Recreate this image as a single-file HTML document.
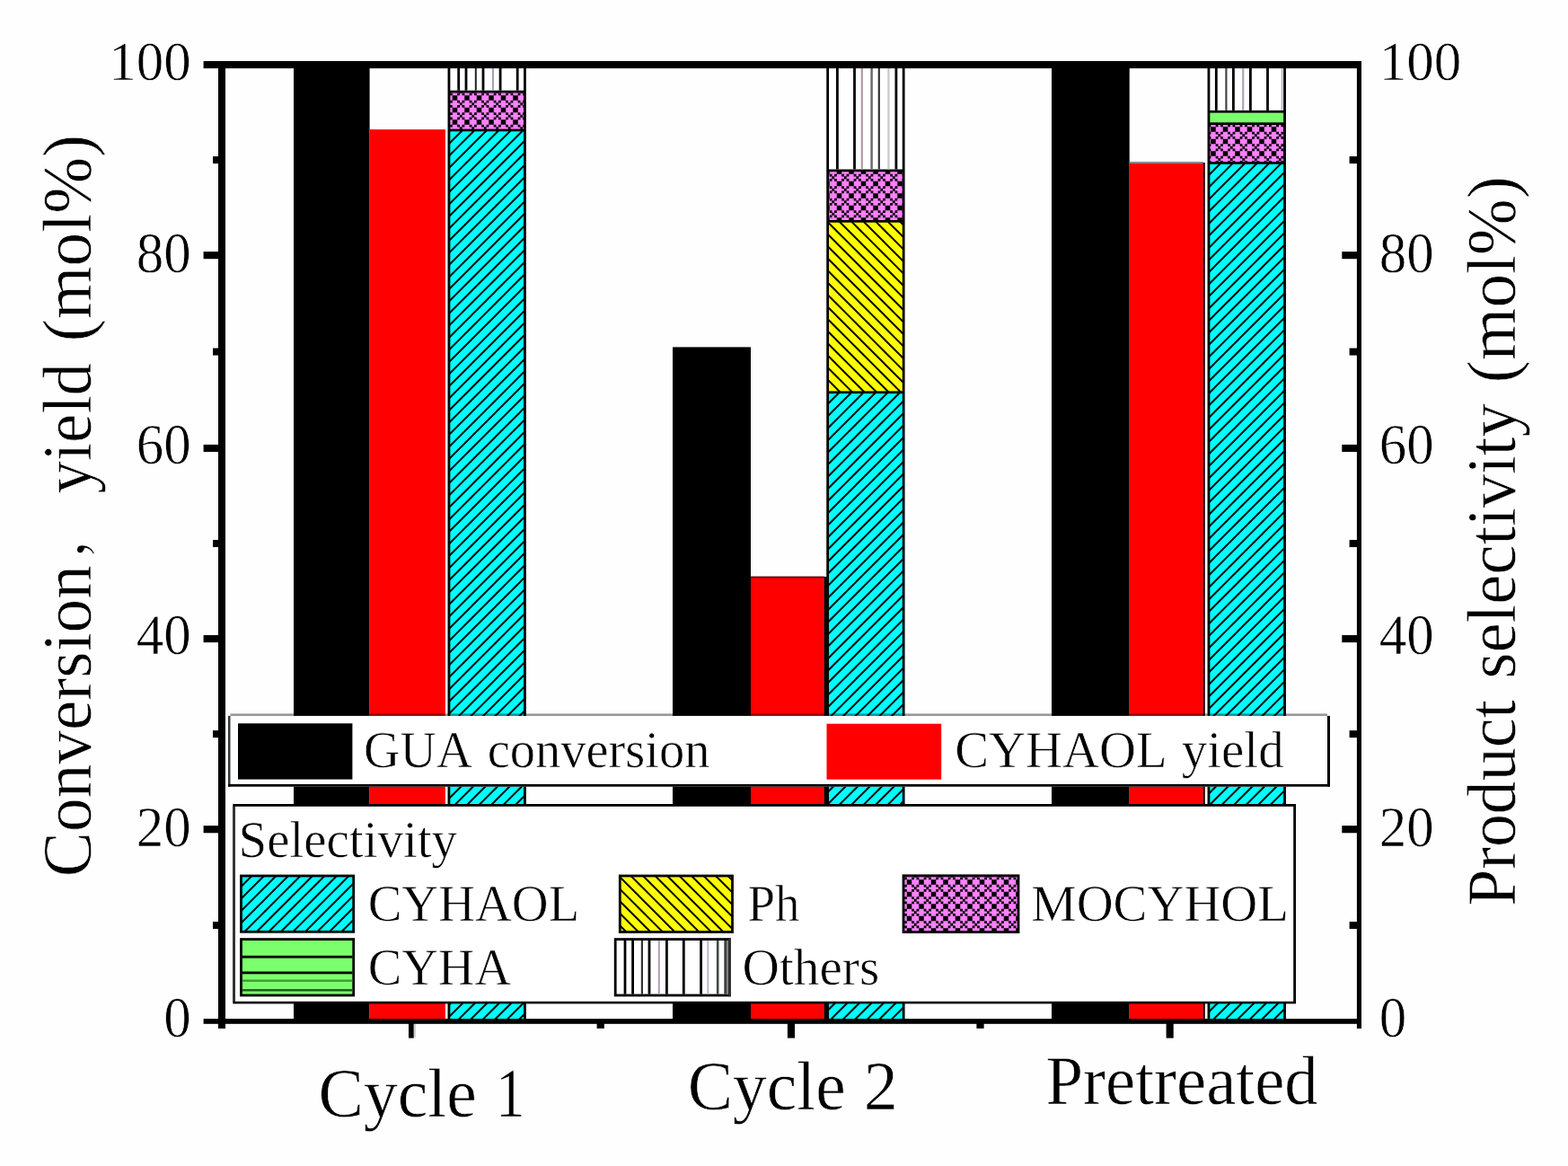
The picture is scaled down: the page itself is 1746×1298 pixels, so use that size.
<!DOCTYPE html>
<html lang="en">
<head>
<meta charset="utf-8">
<title>GUA conversion, CYHAOL yield and product selectivity</title>
<style>
html,body{margin:0;padding:0;background:#fefefe;}
body{width:1746px;height:1298px;overflow:hidden;}
svg{display:block;}
.t{font-family:"Liberation Serif","Noto Serif CJK SC",serif;fill:#000;stroke:#fefefe;stroke-width:0.6px;text-rendering:geometricPrecision;}
.c{font-family:"Noto Serif CJK SC","Noto Sans CJK SC","Liberation Serif",serif;}
</style>
</head>
<body>
<svg width="1746" height="1298" viewBox="0 0 1746 1298" shape-rendering="geometricPrecision">
<defs>
<pattern id="pc" patternUnits="userSpaceOnUse" x="0" y="0" width="27" height="27" shape-rendering="geometricPrecision">
<rect width="27" height="27" fill="#00ffff"/>
<path d="M5.00 -5L-32.00 32.0M18.50 -5L-18.50 32.0M32.00 -5L-5.00 32.0M45.50 -5L8.50 32.0M59.00 -5L22.00 32.0" stroke="#000" stroke-width="1.95" fill="none"/>
</pattern>
<pattern id="py" patternUnits="userSpaceOnUse" x="0" y="0" width="27" height="27" shape-rendering="geometricPrecision">
<rect width="27" height="27" fill="#ffff00"/>
<path d="M-32.00 -5L5.00 32.0M-18.50 -5L18.50 32.0M-5.00 -5L32.00 32.0M8.50 -5L45.50 32.0M22.00 -5L59.00 32.0" stroke="#000" stroke-width="1.95" fill="none"/>
</pattern>
<pattern id="pm" patternUnits="userSpaceOnUse" x="0" y="0" width="27" height="27" shape-rendering="geometricPrecision">
<rect width="27" height="27" fill="#ff80ff"/>
<path d="M-0.05 -0.05h2.8v2.8h-2.8zM10.75 -0.05h2.8v2.8h-2.8zM13.45 -0.05h2.8v2.8h-2.8zM24.25 -0.05h2.8v2.8h-2.8zM2.65 2.65h2.8v2.8h-2.8zM8.05 2.65h2.8v2.8h-2.8zM16.15 2.65h2.8v2.8h-2.8zM21.55 2.65h2.8v2.8h-2.8zM5.35 5.35h2.8v2.8h-2.8zM18.85 5.35h2.8v2.8h-2.8zM2.65 8.05h2.8v2.8h-2.8zM8.05 8.05h2.8v2.8h-2.8zM16.15 8.05h2.8v2.8h-2.8zM21.55 8.05h2.8v2.8h-2.8zM-0.05 10.75h2.8v2.8h-2.8zM10.75 10.75h2.8v2.8h-2.8zM13.45 10.75h2.8v2.8h-2.8zM24.25 10.75h2.8v2.8h-2.8zM-0.05 13.45h2.8v2.8h-2.8zM10.75 13.45h2.8v2.8h-2.8zM13.45 13.45h2.8v2.8h-2.8zM24.25 13.45h2.8v2.8h-2.8zM2.65 16.15h2.8v2.8h-2.8zM8.05 16.15h2.8v2.8h-2.8zM16.15 16.15h2.8v2.8h-2.8zM21.55 16.15h2.8v2.8h-2.8zM5.35 18.85h2.8v2.8h-2.8zM18.85 18.85h2.8v2.8h-2.8zM2.65 21.55h2.8v2.8h-2.8zM8.05 21.55h2.8v2.8h-2.8zM16.15 21.55h2.8v2.8h-2.8zM21.55 21.55h2.8v2.8h-2.8zM-0.05 24.25h2.8v2.8h-2.8zM10.75 24.25h2.8v2.8h-2.8zM13.45 24.25h2.8v2.8h-2.8zM24.25 24.25h2.8v2.8h-2.8z" fill="#000"/>
</pattern>
<pattern id="pc1" href="#pc" x="12" y="0"/>
<pattern id="pc2" href="#pc" x="8" y="0"/>
<pattern id="pc3" href="#pc" x="2" y="0"/>
<pattern id="pcL" href="#pc" x="0" y="0"/>
<pattern id="py2" href="#py" x="13" y="0"/>
<pattern id="pyL" href="#py" x="11" y="0"/>
<pattern id="pm1" href="#pm" x="7" y="1"/>
<pattern id="pm2" href="#pm" x="3" y="2"/>
<pattern id="pm3" href="#pm" x="1" y="9"/>
<pattern id="pmL" href="#pm" x="0" y="10"/>
</defs>
<rect x="0.00" y="0.00" width="1746.00" height="1298.00" fill="#fefefe"/>
<rect x="327.00" y="76.00" width="84.60" height="1059.00" fill="#000"/>
<rect x="411.60" y="144.10" width="84.30" height="990.90" fill="#ff0000"/>
<rect x="498.55" y="76.00" width="87.30" height="1059.00" fill="#000"/>
<rect x="501.35" y="76.00" width="81.70" height="24.70" fill="#fff"/>
<rect x="509.30" y="76.00" width="2.80" height="24.70" fill="#000"/>
<rect x="517.60" y="76.00" width="2.80" height="24.70" fill="#000"/>
<rect x="528.80" y="76.00" width="2.00" height="24.70" fill="#222"/>
<rect x="536.60" y="76.00" width="2.80" height="24.70" fill="#000"/>
<rect x="547.90" y="76.00" width="2.00" height="24.70" fill="#a0a0b0"/>
<rect x="555.70" y="76.00" width="2.80" height="24.70" fill="#000"/>
<rect x="574.80" y="76.00" width="2.80" height="24.70" fill="#000"/>
<rect x="501.35" y="103.40" width="81.70" height="40.20" fill="url(#pm1)"/>
<rect x="501.35" y="146.30" width="81.70" height="988.70" fill="url(#pc1)"/>
<rect x="749.00" y="386.40" width="87.00" height="748.60" fill="#000"/>
<rect x="836.00" y="642.20" width="81.80" height="492.80" fill="#ff0000"/>
<rect x="836.00" y="641.60" width="81.80" height="1.80" fill="#600"/>
<rect x="917.60" y="642.00" width="3.40" height="493.00" fill="#000"/>
<rect x="920.25" y="76.00" width="87.30" height="1059.00" fill="#000"/>
<rect x="923.05" y="76.00" width="81.70" height="112.50" fill="#fff"/>
<rect x="931.00" y="76.00" width="2.80" height="112.50" fill="#000"/>
<rect x="950.10" y="76.00" width="2.80" height="112.50" fill="#000"/>
<rect x="958.70" y="76.00" width="2.20" height="112.50" fill="#b09aa8"/>
<rect x="969.40" y="76.00" width="2.40" height="112.50" fill="#666"/>
<rect x="977.70" y="76.00" width="2.20" height="112.50" fill="#333"/>
<rect x="988.30" y="76.00" width="2.20" height="112.50" fill="#c8c8c8"/>
<rect x="996.50" y="76.00" width="2.80" height="112.50" fill="#000"/>
<rect x="923.05" y="191.20" width="81.70" height="53.80" fill="url(#pm2)"/>
<rect x="923.05" y="247.70" width="81.70" height="187.70" fill="url(#py2)"/>
<rect x="923.05" y="438.10" width="81.70" height="696.90" fill="url(#pc2)"/>
<rect x="1171.00" y="76.00" width="86.70" height="1059.00" fill="#000"/>
<rect x="1257.70" y="181.60" width="82.10" height="953.40" fill="#ff0000"/>
<rect x="1257.70" y="180.00" width="82.10" height="2.00" fill="#8a8a8a"/>
<rect x="1339.60" y="181.00" width="2.20" height="954.00" fill="#200"/>
<rect x="1344.55" y="76.00" width="87.40" height="1059.00" fill="#000"/>
<rect x="1347.35" y="76.00" width="81.80" height="46.90" fill="#fff"/>
<rect x="1352.90" y="76.00" width="2.80" height="46.90" fill="#000"/>
<rect x="1364.30" y="76.00" width="2.20" height="46.90" fill="#444"/>
<rect x="1372.00" y="76.00" width="2.80" height="46.90" fill="#000"/>
<rect x="1383.10" y="76.00" width="2.20" height="46.90" fill="#a8aab8"/>
<rect x="1391.00" y="76.00" width="2.80" height="46.90" fill="#000"/>
<rect x="1410.10" y="76.00" width="2.80" height="46.90" fill="#000"/>
<rect x="1426.80" y="76.00" width="1.60" height="46.90" fill="#b0b0c0"/>
<rect x="1347.35" y="125.60" width="81.80" height="10.70" fill="#7cff6c"/>
<rect x="1347.35" y="139.00" width="81.80" height="41.10" fill="url(#pm3)"/>
<rect x="1347.35" y="182.80" width="81.80" height="952.20" fill="url(#pc3)"/>
<rect x="226.60" y="68.00" width="1289.40" height="8.10" fill="#000"/>
<rect x="243.00" y="68.00" width="8.00" height="1077.00" fill="#000"/>
<rect x="1510.90" y="70.00" width="5.10" height="1075.00" fill="#000"/>
<rect x="226.60" y="1134.10" width="1289.40" height="5.70" fill="#000"/>
<rect x="226.60" y="280.10" width="17.40" height="8.10" fill="#000"/>
<rect x="1494.30" y="280.10" width="17.70" height="8.10" fill="#000"/>
<rect x="226.60" y="494.95" width="17.40" height="8.10" fill="#000"/>
<rect x="1494.30" y="494.95" width="17.70" height="8.10" fill="#000"/>
<rect x="226.60" y="707.05" width="17.40" height="8.10" fill="#000"/>
<rect x="1494.30" y="707.05" width="17.70" height="8.10" fill="#000"/>
<rect x="226.60" y="919.15" width="17.40" height="8.10" fill="#000"/>
<rect x="1494.30" y="919.15" width="17.70" height="8.10" fill="#000"/>
<rect x="237.00" y="174.07" width="7.00" height="8.00" fill="#000"/>
<rect x="1502.60" y="174.07" width="9.40" height="8.00" fill="#000"/>
<rect x="237.00" y="387.57" width="7.00" height="8.00" fill="#000"/>
<rect x="1502.60" y="387.57" width="9.40" height="8.00" fill="#000"/>
<rect x="237.00" y="601.05" width="7.00" height="8.00" fill="#000"/>
<rect x="1502.60" y="601.05" width="9.40" height="8.00" fill="#000"/>
<rect x="237.00" y="813.15" width="7.00" height="8.00" fill="#000"/>
<rect x="1502.60" y="813.15" width="9.40" height="8.00" fill="#000"/>
<rect x="237.00" y="1026.05" width="7.00" height="8.00" fill="#000"/>
<rect x="1502.60" y="1026.05" width="9.40" height="8.00" fill="#000"/>
<rect x="455.00" y="1139.00" width="5.80" height="16.60" fill="#000"/>
<rect x="460.80" y="1140.00" width="2.20" height="15.00" fill="#d0d0d0"/>
<rect x="876.90" y="1139.00" width="8.10" height="16.60" fill="#000"/>
<rect x="1298.60" y="1139.00" width="8.10" height="16.60" fill="#000"/>
<rect x="664.60" y="1139.00" width="8.20" height="5.90" fill="#000"/>
<rect x="1087.40" y="1139.00" width="8.20" height="5.90" fill="#000"/>
<text class="t" transform="translate(212.7 89.00) scale(1 1.0)" font-size="61" text-anchor="end">100</text>
<text class="t" transform="translate(1535.8 89.00) scale(1 1.0)" font-size="61">100</text>
<text class="t" transform="translate(212.7 303.15) scale(1 1.04)" font-size="61" text-anchor="end">80</text>
<text class="t" transform="translate(1535.8 303.15) scale(1 1.04)" font-size="61">80</text>
<text class="t" transform="translate(212.7 516.00) scale(1 1.04)" font-size="61" text-anchor="end">60</text>
<text class="t" transform="translate(1535.8 516.00) scale(1 1.04)" font-size="61">60</text>
<text class="t" transform="translate(212.7 728.00) scale(1 1.04)" font-size="61" text-anchor="end">40</text>
<text class="t" transform="translate(1535.8 728.00) scale(1 1.04)" font-size="61">40</text>
<text class="t" transform="translate(212.7 942.00) scale(1 1.04)" font-size="61" text-anchor="end">20</text>
<text class="t" transform="translate(1535.8 942.00) scale(1 1.04)" font-size="61">20</text>
<text class="t" transform="translate(212.7 1154.30) scale(1 1.04)" font-size="61" text-anchor="end">0</text>
<text class="t" transform="translate(1535.8 1154.30) scale(1 1.04)" font-size="61">0</text>
<text class="t" transform="translate(354.44 1242.60) scale(0.9952 1.0200)" font-size="76">Cycle</text>
<text class="t" transform="translate(551.94 1242.60) scale(0.8600 1.0200)" font-size="76">1</text>
<text class="t" transform="translate(765.64 1234.60) scale(0.9929 1.0200)" font-size="76">Cycle</text>
<text class="t" transform="translate(961.72 1234.60) scale(1.0012 1.0200)" font-size="76">2</text>
<text class="t" transform="translate(1164.43 1228.90) scale(0.9848 1.0200)" font-size="76">Pretreated</text>
<text class="t" transform="translate(101.30 976.15) rotate(-90) scale(0.9901 1.0200)" font-size="76">Conversion</text>
<text class="t c" transform="translate(92.70 621.56) rotate(-90) scale(1.0229 1.0000)" font-size="62">，</text>
<text class="t" transform="translate(101.30 549.50) rotate(-90) scale(0.9575 1.0200)" font-size="76">yield</text>
<text class="t" transform="translate(101.30 380.36) rotate(-90) scale(0.9928 1.0200)" font-size="76">(mol%)</text>
<text class="t" transform="translate(1687.40 1008.86) rotate(-90) scale(0.9728 1.0200)" font-size="76">Product</text>
<text class="t" transform="translate(1687.40 755.43) rotate(-90) scale(0.9801 1.0200)" font-size="76">selectivity</text>
<text class="t" transform="translate(1687.40 426.25) rotate(-90) scale(0.9906 1.0200)" font-size="76">(mol%)</text>
<rect x="254.00" y="796.90" width="1227.00" height="78.80" fill="#fff"/>
<rect x="256.50" y="794.40" width="1221.50" height="2.60" fill="#000" opacity="0.4"/>
<rect x="254.00" y="796.90" width="2.50" height="78.80" fill="#2e3a32"/>
<rect x="254.00" y="872.90" width="1227.00" height="2.80" fill="#000"/>
<rect x="1478.00" y="796.90" width="3.00" height="78.80" fill="#000"/>
<rect x="265.00" y="805.30" width="127.40" height="62.30" fill="#000"/>
<rect x="920.50" y="805.70" width="127.70" height="62.00" fill="#ff0000"/>
<text class="t" transform="translate(405.05 853.50) scale(0.9888 1.0200)" font-size="56.5">GUA</text>
<text class="t" transform="translate(542.63 853.50) scale(0.9998 1.0200)" font-size="56.5">conversion</text>
<text class="t" transform="translate(1063.13 853.50) scale(1.0043 1.0200)" font-size="56.5">CYHAOL</text>
<text class="t" transform="translate(1315.80 853.50) scale(1.0073 1.0200)" font-size="56.5">yield</text>
<rect x="259.30" y="895.00" width="1183.70" height="222.40" fill="#000"/>
<rect x="261.90" y="897.80" width="1178.30" height="217.00" fill="#fff"/>
<rect x="259.30" y="897.80" width="2.60" height="217.00" fill="#333"/>
<text class="t" transform="translate(265.54 954.10) scale(1.0075 1.0200)" font-size="56.5">Selectivity</text>
<rect x="267.10" y="973.60" width="128.00" height="65.10" fill="#000"/>
<rect x="269.90" y="976.40" width="122.40" height="59.50" fill="url(#pcL)"/>
<text class="t" transform="translate(409.63 1024.90) scale(1.0008 1.0200)" font-size="56.5">CYHAOL</text>
<rect x="688.90" y="973.60" width="128.00" height="65.30" fill="#000"/>
<rect x="691.70" y="976.40" width="122.40" height="59.70" fill="url(#pyL)"/>
<text class="t" transform="translate(832.54 1024.90) scale(0.9730 1.0200)" font-size="56.5">Ph</text>
<rect x="1004.60" y="973.40" width="130.80" height="65.60" fill="#000"/>
<rect x="1007.40" y="976.20" width="125.20" height="60.00" fill="url(#pmL)"/>
<text class="t" transform="translate(1148.21 1024.50) scale(1.0038 1.0200)" font-size="56.5">MOCYHOL</text>
<rect x="267.10" y="1044.20" width="128.00" height="65.20" fill="#000"/>
<rect x="269.90" y="1047.00" width="122.40" height="59.60" fill="#7cff6c"/>
<rect x="269.80" y="1063.80" width="122.60" height="2.80" fill="#000"/>
<rect x="269.80" y="1081.50" width="122.60" height="2.80" fill="#000"/>
<rect x="269.80" y="1090.50" width="122.60" height="2.40" fill="#3aa030"/>
<rect x="269.80" y="1101.10" width="122.60" height="2.40" fill="#1a5a18"/>
<text class="t" transform="translate(409.64 1095.50) scale(0.9960 1.0200)" font-size="56.5">CYHA</text>
<rect x="683.80" y="1044.20" width="130.00" height="65.20" fill="#000"/>
<rect x="686.60" y="1047.00" width="124.40" height="59.60" fill="#fff"/>
<rect x="694.60" y="1046.90" width="2.80" height="59.80" fill="#000"/>
<rect x="703.20" y="1046.90" width="2.80" height="59.80" fill="#000"/>
<rect x="713.80" y="1046.90" width="2.20" height="59.80" fill="#333"/>
<rect x="721.60" y="1046.90" width="2.80" height="59.80" fill="#000"/>
<rect x="732.80" y="1046.90" width="2.00" height="59.80" fill="#b0a0b0"/>
<rect x="741.00" y="1046.90" width="2.80" height="59.80" fill="#000"/>
<rect x="759.90" y="1046.90" width="2.80" height="59.80" fill="#000"/>
<rect x="779.20" y="1046.90" width="2.80" height="59.80" fill="#000"/>
<rect x="787.30" y="1046.90" width="2.00" height="59.80" fill="#b8b8c8"/>
<rect x="797.90" y="1046.90" width="2.60" height="59.80" fill="#3c4a44"/>
<rect x="806.30" y="1046.90" width="2.70" height="59.80" fill="#3a443e"/>
<rect x="809.00" y="1046.90" width="2.30" height="59.80" fill="#8a7c7c"/>
<rect x="811.30" y="1044.30" width="2.50" height="65.00" fill="#333"/>
<text class="t" transform="translate(826.51 1095.50) scale(1.0137 1.0200)" font-size="56.5">Others</text>
</svg>
</body>
</html>
